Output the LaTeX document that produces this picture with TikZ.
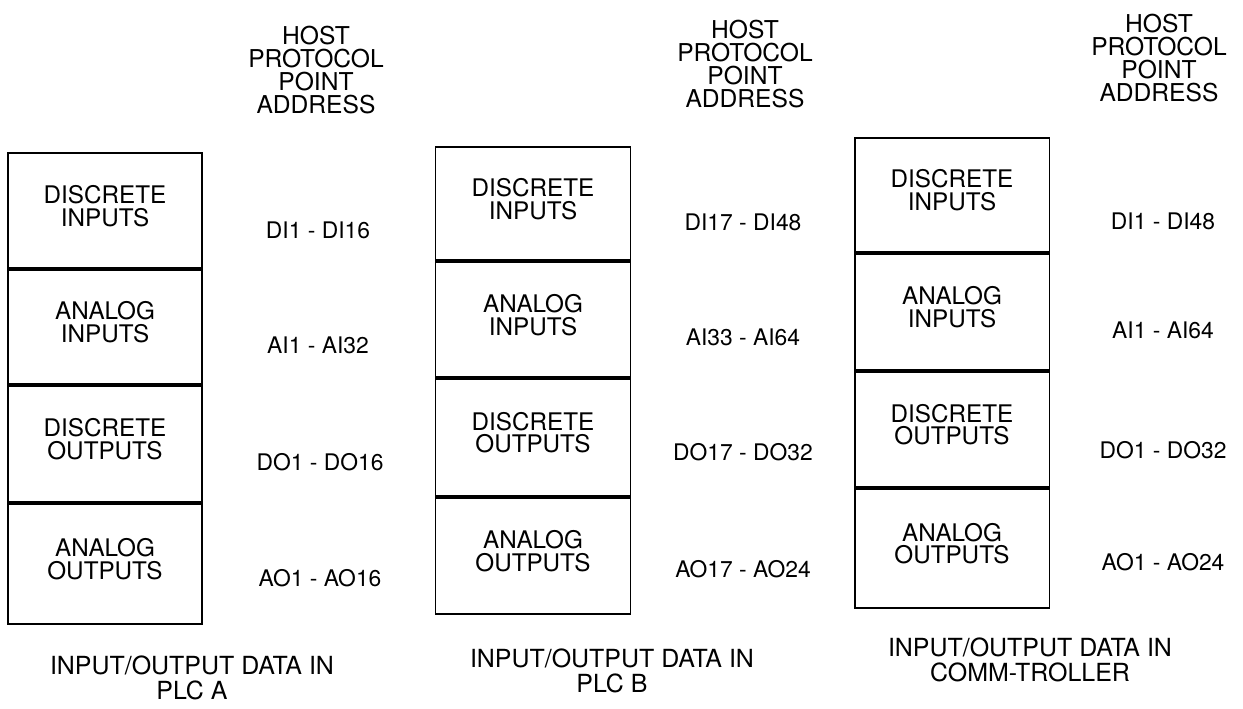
\documentclass[tikz,border=0pt]{standalone}
\usepackage{fontspec}
\setmainfont{TeX Gyre Heros}
\usetikzlibrary{positioning}

\tikzset{
  cell/.style={draw,line width=1.1pt,minimum width=3.9cm,inner sep=0pt,align=center,
    text depth=5.5pt,font=\fontsize{13.8}{13}\selectfont},
  addr/.style={font=\fontsize{13}{13}\selectfont},
  head/.style={align=center,font=\fontsize{14}{13}\selectfont},
  caption/.style={align=center,font=\fontsize{14.2}{13.8}\selectfont}
}

\begin{document}
\begin{tikzpicture}[x=0.02cm,y=-0.02cm]
\useasboundingbox (0,0) rectangle (1243,708);
% column headers
\node[head] (hA) at (316,70) {HOST\\PROTOCOL\\POINT\\ADDRESS};
\node[head] (hB) at (745,64) {HOST\\PROTOCOL\\POINT\\ADDRESS};
\node[head] (hC) at (1159,58) {HOST\\PROTOCOL\\POINT\\ADDRESS};
% PLC A
\node[cell,minimum width=3.88cm,minimum height=2.30cm] (a1) at (105,210.5) {DISCRETE\\INPUTS};
\node[cell,minimum width=3.88cm,minimum height=2.28cm,below=0pt of a1] (a2) {ANALOG\\INPUTS};
\node[cell,minimum width=3.88cm,minimum height=2.32cm,below=0pt of a2] (a3) {DISCRETE\\OUTPUTS};
\node[cell,minimum width=3.88cm,minimum height=2.40cm,below=0pt of a3] (a4) {ANALOG\\OUTPUTS};
\node[addr] (da1) at (318,230) {DI1 - DI16};
\node[addr] (da2) at (318,345) {AI1 - AI32};
\node[addr] (da3) at (320,462) {DO1 - DO16};
\node[addr] (da4) at (320,578) {AO1 - AO16};
\node[caption] (cA) at (192,678) {INPUT/OUTPUT DATA IN\\PLC A};
% PLC B
\node[cell,minimum height=2.26cm] (b1) at (533,203.5) {DISCRETE\\INPUTS};
\node[cell,minimum height=2.30cm,below=0pt of b1] (b2) {ANALOG\\INPUTS};
\node[cell,minimum height=2.34cm,below=0pt of b2] (b3) {DISCRETE\\OUTPUTS};
\node[cell,minimum height=2.32cm,below=0pt of b3] (b4) {ANALOG\\OUTPUTS};
\node[addr] (db1) at (743,222) {DI17 - DI48};
\node[addr] (db2) at (743,337) {AI33 - AI64};
\node[addr] (db3) at (743,452) {DO17 - DO32};
\node[addr] (db4) at (743,569) {AO17 - AO24};
\node[caption] (cB) at (612,671) {INPUT/OUTPUT DATA IN\\PLC B};
% COMM-TROLLER
\node[cell,minimum height=2.28cm] (c1) at (952,195) {DISCRETE\\INPUTS};
\node[cell,minimum height=2.32cm,below=0pt of c1] (c2) {ANALOG\\INPUTS};
\node[cell,minimum height=2.30cm,below=0pt of c2] (c3) {DISCRETE\\OUTPUTS};
\node[cell,minimum height=2.38cm,below=0pt of c3] (c4) {ANALOG\\OUTPUTS};
\node[addr] (dc1) at (1163,221) {DI1 - DI48};
\node[addr] (dc2) at (1163,330) {AI1 - AI64};
\node[addr] (dc3) at (1163,450) {DO1 - DO32};
\node[addr] (dc4) at (1163,562) {AO1 - AO24};
\node[caption] (cC) at (1030,660) {INPUT/OUTPUT DATA IN\\COMM-TROLLER};
\end{tikzpicture}
\end{document}
